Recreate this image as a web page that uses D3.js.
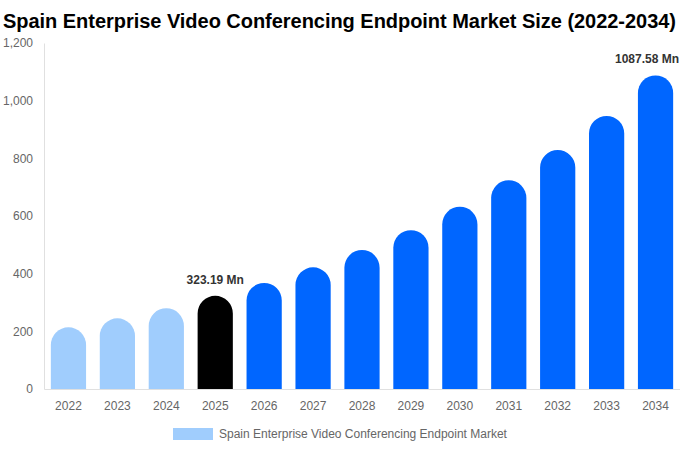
<!DOCTYPE html>
<html>
<head>
<meta charset="utf-8">
<script src="https://cdn.jsdelivr.net/npm/d3@7"></script>
<style>
  body { margin: 0; background: #fff; }
  svg { font-family: "Liberation Sans", Arial, sans-serif; display: block; }
</style>
</head>
<body>
<svg id="chart" width="680" height="450"></svg>
<script>
// chart data
const years = ["2022","2023","2024","2025","2026","2027","2028","2029","2030","2031","2032","2033","2034"];
const marketSize = [214, 245, 280, 323.19, 368, 422, 482, 551, 632, 724, 829, 947, 1087.58];
const barKind = ["hist","hist","hist","base","fore","fore","fore","fore","fore","fore","fore","fore","fore"];
const yTicks = [0, 200, 400, 600, 800, 1000, 1200];
const labelled = {"2025": "323.19 Mn", "2034": "1087.58 Mn"};

const colors = { hist: "#a0cdfd", base: "#000000", fore: "#0066ff" };

let svg = d3.select("#chart");

let x = d3.scaleBand()
    .range([44, 680])
    .domain(years)
    .paddingInner(0.28)
    .paddingOuter(0.14);

let y = d3.scaleLinear()
    .domain([0, 1200])
    .range([389, 43]);

// title
svg.append("text")
    .attr("x", 3)
    .attr("y", 28)
    .attr("font-size", "20px")
    .attr("font-weight", "bold")
    .attr("fill", "#000")
    .attr("textLength", 673)
    .attr("lengthAdjust", "spacing")
    .text("Spain Enterprise Video Conferencing Endpoint Market Size (2022-2034)");

// y axis
let yAxis = svg.append("g")
    .attr("transform", "translate(44,0)")
    .call(d3.axisLeft(y).tickValues(yTicks).tickSize(0).tickPadding(11).tickFormat(d3.format(",")));
yAxis.select(".domain").attr("stroke", "#e0e0e0");
yAxis.selectAll("text").attr("fill", "#666").attr("font-size", "12px")
    .attr("font-family", "Liberation Sans, Arial, sans-serif");

// x axis
let xAxis = svg.append("g")
    .attr("transform", "translate(0,389)")
    .call(d3.axisBottom(x).tickSize(0).tickPadding(12));
xAxis.select(".domain").attr("stroke", "#e0e0e0");
xAxis.selectAll("text").attr("fill", "#666").attr("font-size", "12px")
    .attr("font-family", "Liberation Sans, Arial, sans-serif");

// bars with rounded tops
function barPath(d, i) {
    let x0 = x(years[i]);
    let w = x.bandwidth();
    let r = w / 2;
    let yt = y(d);
    let yb = y(0);
    return "M" + x0 + "," + yb +
        "V" + (yt + r) +
        "A" + r + "," + r + " 0 0 1 " + (x0 + w) + "," + (yt + r) +
        "V" + yb + "Z";
}

svg.selectAll("path.bar")
    .data(marketSize)
    .enter()
    .append("path")
    .attr("class", "bar")
    .attr("d", barPath)
    .attr("fill", function(d, i) { return colors[barKind[i]]; });

// value labels (kept inside the right edge)
svg.selectAll("text.val")
    .data(years.filter(function(yr) { return labelled[yr]; }))
    .enter()
    .append("text")
    .attr("class", "val")
    .attr("x", function(yr) { return x(yr) + x.bandwidth() / 2; })
    .attr("y", function(yr) { return y(marketSize[years.indexOf(yr)]) - 12; })
    .attr("text-anchor", "middle")
    .attr("font-size", "12px")
    .attr("font-weight", "bold")
    .attr("fill", "#333")
    .text(function(yr) { return labelled[yr]; })
    .each(function() {
        let b = this.getBBox();
        if (b.x + b.width > 679) {
            d3.select(this).attr("text-anchor", "end").attr("x", 679);
        }
    });

// legend
svg.append("rect")
    .attr("x", 173).attr("y", 428)
    .attr("width", 40).attr("height", 12)
    .attr("fill", colors.hist);
svg.append("text")
    .attr("x", 219).attr("y", 438)
    .attr("font-size", "12px")
    .attr("fill", "#666")
    .text("Spain Enterprise Video Conferencing Endpoint Market");
</script>
</body>
</html>
